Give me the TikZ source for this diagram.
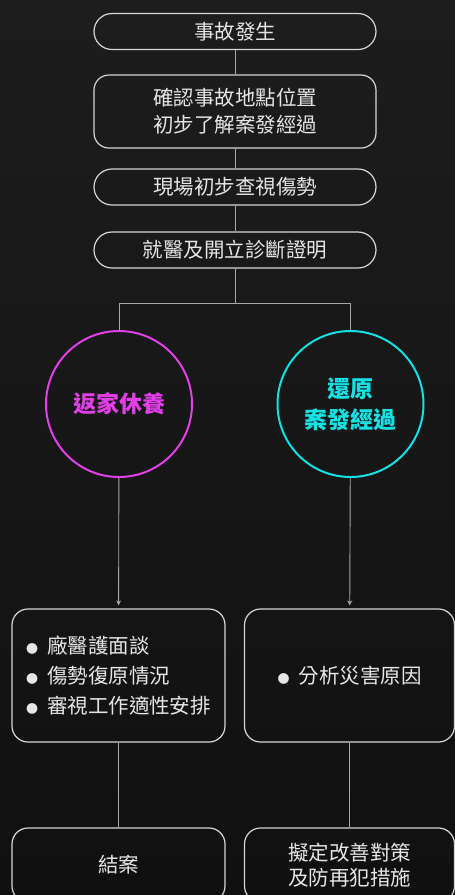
\documentclass[tikz,border=0pt]{standalone}
\usepackage{fontspec}
\setmainfont{Noto Sans CJK TC}
\usetikzlibrary{arrows.meta}
\definecolor{bgtop}{HTML}{1D1D1D}
\definecolor{bgbot}{HTML}{101010}
\definecolor{edgegrey}{HTML}{D6D6D6}
\definecolor{linkgrey}{HTML}{A8A8A8}
\definecolor{inkwhite}{HTML}{E6E6E6}
\definecolor{pinkring}{HTML}{E23FE8}
\definecolor{cyanring}{HTML}{12E2E4}
\tikzset{
PILL/.style ={draw=edgegrey,line width=1.2pt,text=inkwhite,minimum width=282pt,minimum height=36pt,rounded corners=18pt,align=center,font=\fontsize{20.5}{27}\selectfont},
STEP/.style ={PILL,rounded corners=15pt},
BOX/.style ={draw=edgegrey,line width=1.2pt,text=inkwhite,minimum height=133pt,rounded corners=16pt,font=\fontsize{20.5}{30}\selectfont},
RING/.style ={circle,draw=#1,line width=2pt,text=#1,minimum size=146pt,align=center,font=\fontsize{23}{31}\selectfont\bfseries},
LINK/.style ={draw=linkgrey,line width=0.9pt},
DROP/.style ={LINK,-{Stealth[length=5pt,width=5pt]},shorten >=3pt},
}
\newcommand{\dotitem}{{\fontsize{12}{12}\selectfont ●}\hspace{9pt}}

\begin{document}
\begin{tikzpicture}[x=1pt,y=-1pt]
	\useasboundingbox (0,0) rectangle (455,895);
	\shade[top color=bgtop,bottom color=bgbot] (0,0) rectangle (455,895);
	% top column
	\node[PILL] (start) at (235,31.5) {事故發生};
	\node[STEP,minimum height=73pt] (locate) at (235,111.5) {確認事故地點位置\\初步了解案發經過};
	\node[PILL] (check) at (235,187) {現場初步查視傷勢};
	\node[PILL] (doctor) at (235,250) {就醫及開立診斷證明};
	\path[LINK] (start) -- (locate);
	\path[LINK] (locate) -- (check);
	\path[LINK] (check) -- (doctor);
	% two branches
	\node[RING=pinkring] (home) at (119,404) {返家休養};
	\node[RING=cyanring] (recon) at (350.5,404) {還原\\案發經過};
	\coordinate (fork) at (235,303);
	\path[LINK] (doctor) -- (fork) -| (home);
	\path[LINK] (fork) -| (recon);
	\node[BOX,minimum width=213pt,align=left] (talk) at (118.5,675.5) {\dotitem 廠醫護面談\\\dotitem 傷勢復原情況\\\dotitem 審視工作適性安排};
	\node[BOX,minimum width=210pt,align=left] (cause) at (349.5,675.5) {\dotitem 分析災害原因};
	\path[DROP] (home) -- (talk);
	\path[DROP] (recon) -- (cause);
	\node[BOX,minimum width=213pt,minimum height=74pt,align=center,font=\fontsize{20.5}{25}\selectfont] (close) at (118.5,865) {結案};
	\node[BOX,minimum width=210pt,minimum height=74pt,align=center,font=\fontsize{20.5}{25}\selectfont] (plan) at (349.5,865) {擬定改善對策\\及防再犯措施};
	\path[LINK] (talk) -- (close);
	\path[LINK] (cause) -- (plan);
\end{tikzpicture}
\end{document}
